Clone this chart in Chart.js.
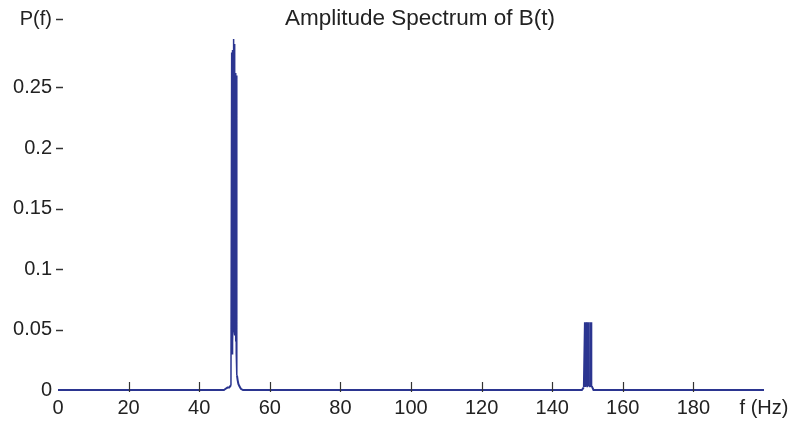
<!DOCTYPE html>
<html>
<head>
<meta charset="utf-8">
<title>Amplitude Spectrum of B(t)</title>
<script src="https://cdn.jsdelivr.net/npm/chart.js@4.4.1/dist/chart.umd.min.js"></script>
<style>
  html, body { margin: 0; padding: 0; background: #fff; }
  #spectrum { display: block; }
</style>
</head>
<body>
<canvas id="spectrum" width="790" height="421"></canvas>
<script>
// Amplitude spectrum of B(t): mains component near 50 Hz and its third harmonic near 150 Hz.

const chartTitle = 'Amplitude Spectrum of B(t)';

// frequency (Hz) and amplitude P(f)
const freqHz = [
  0, 47.0, 47.5, 48.0, 48.5, 49.0,
  49.2, 49.3, 49.4, 49.5, 49.6, 49.7, 49.8, 49.9,
  50.0, 50.1, 50.2, 50.3, 50.4, 50.5, 50.6, 50.7, 50.9, 51.1, 51.4, 51.8, 52.4,
  148.4, 148.9, 149.2, 149.3, 149.4, 149.5, 149.6, 149.7, 149.85,
  149.95, 150.05, 150.15, 150.25, 150.35, 150.45, 150.6,
  150.7, 150.8, 150.9, 151.0, 151.1, 151.2, 151.4, 151.7, 200
];
const amplitude = [
  0, 0, 0.001, 0.002, 0.002, 0.004,
  0.279, 0.03, 0.281, 0.04, 0.058, 0.05, 0.290, 0.05,
  0.286, 0.045, 0.262, 0.04, 0.262, 0.03, 0.26, 0.012, 0.008, 0.005, 0.003, 0.001, 0,
  0, 0.002, 0.056, 0.003, 0.056, 0.003, 0.056, 0.003, 0.004,
  0.056, 0.003, 0.056, 0.003, 0.056, 0.003, 0.004,
  0.056, 0.003, 0.056, 0.003, 0.056, 0.003, 0.002, 0, 0
];

const xTickValues = [0, 20, 40, 60, 80, 100, 120, 140, 160, 180, 200];
const xTickLabels = ['0', '20', '40', '60', '80', '100', '120', '140', '160', '180', 'f (Hz)'];
const yTickValues = [0, 0.05, 0.1, 0.15, 0.2, 0.25, 0.3];
// the axis name sits a little above the top tick, so it gets an empty second line
const yTickLabels = ['0', '0.05', '0.1', '0.15', '0.2', '0.25', ['P(f)', '']];

const points = freqHz.map((f, i) => ({ x: f, y: amplitude[i] }));
const labelFont = { family: '"Liberation Sans", Arial, sans-serif', size: 20, lineHeight: 0.8 };
const lineColor = '#2b3590';

// tick marks: short dashes after the y labels, short upward marks on the baseline; title over the plot
const spectrumDecor = {
  id: 'spectrumDecor',
  afterDatasetsDraw(chart) {
    const { ctx, chartArea, scales } = chart;
    ctx.save();
    ctx.strokeStyle = '#333';
    ctx.lineWidth = 1.2;
    xTickValues.forEach(v => {
      if (v === 0 || v === 200) return;
      const px = Math.round(scales.x.getPixelForValue(v)) + 0.5;
      ctx.beginPath();
      ctx.moveTo(px, chartArea.bottom - 8);
      ctx.lineTo(px, chartArea.bottom + 2);
      ctx.stroke();
    });
    ctx.lineWidth = 1.5;
    yTickValues.forEach((v, i) => {
      if (v === 0) return;
      let py = Math.round(scales.y.getPixelForValue(v)) + 0.5;
      if (Array.isArray(yTickLabels[i])) py -= labelFont.size * labelFont.lineHeight / 2;
      ctx.beginPath();
      ctx.moveTo(chartArea.left - 2, py);
      ctx.lineTo(chartArea.left + 5, py);
      ctx.stroke();
    });
    ctx.fillStyle = '#222';
    ctx.font = '22.5px "Liberation Sans", Arial, sans-serif';
    ctx.textAlign = 'center';
    ctx.textBaseline = 'middle';
    ctx.fillText(chartTitle, 420, 19);
    ctx.restore();
  }
};

new Chart(document.getElementById('spectrum'), {
  type: 'line',
  data: {
    datasets: [{
      data: points,
      borderColor: lineColor,
      borderWidth: 2,
      clip: false,
      // the tall spikes are drawn thinner so the narrow gaps between them stay open
      segment: {
        borderWidth: c => (c.p0.parsed.y > 0.02 || c.p1.parsed.y > 0.02) ? 1.5 : 2
      },
      pointRadius: 0,
      tension: 0,
      fill: false
    }]
  },
  options: {
    responsive: false,
    animation: false,
    layout: { padding: { top: 27, right: 26, left: 0, bottom: 0 } },
    plugins: {
      legend: { display: false },
      tooltip: { enabled: false }
    },
    scales: {
      x: {
        type: 'linear',
        min: 0,
        max: 200,
        afterBuildTicks: scale => { scale.ticks = xTickValues.map(v => ({ value: v })); },
        afterFit: scale => {
          scale.height = 31;
          scale.paddingRight = 0;
        },
        grid: { display: false, drawTicks: false },
        border: { display: false },
        ticks: {
          color: '#222',
          font: labelFont,
          padding: 10,
          maxRotation: 0,
          autoSkip: false,
          callback: v => xTickLabels[xTickValues.indexOf(v)]
        }
      },
      y: {
        min: 0,
        max: 0.3,
        afterBuildTicks: scale => { scale.ticks = yTickValues.map(v => ({ value: v })); },
        afterFit: scale => {
          scale.width = 58;
          scale.paddingTop = 0;
        },
        grid: { display: false, drawTicks: false },
        border: { display: false },
        ticks: {
          color: '#222',
          font: labelFont,
          padding: 6,
          autoSkip: false,
          callback: v => yTickLabels[yTickValues.indexOf(v)]
        }
      }
    }
  },
  plugins: [spectrumDecor]
});
</script>
</body>
</html>
